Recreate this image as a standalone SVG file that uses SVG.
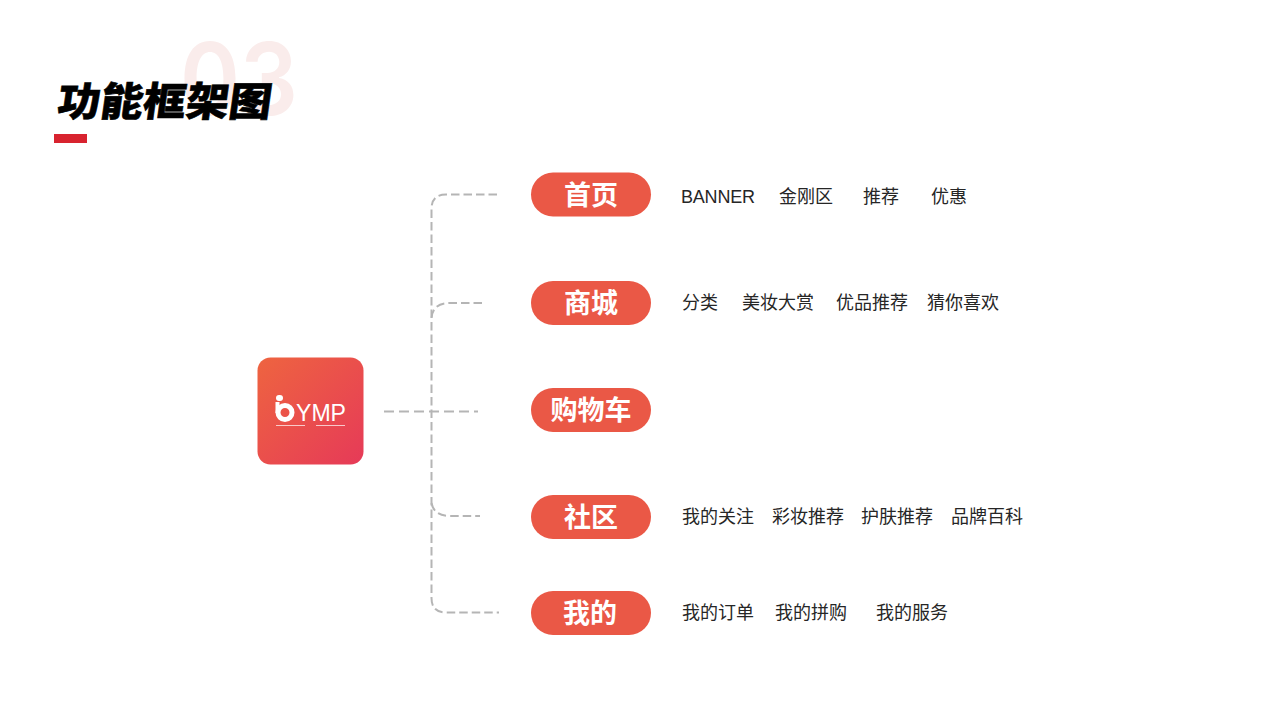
<svg xmlns="http://www.w3.org/2000/svg" width="1280" height="720" viewBox="0 0 1280 720">
<style>
.c{fill:none;stroke:#b5b5b5;stroke-width:2;stroke-dasharray:8.500 4}
.m{stroke-dasharray:10 5}
.p{fill:#ea5846}
.n{font-family:"Noto Sans CJK SC","Liberation Sans",sans-serif;font-size:27px;font-weight:700;fill:#fff;text-anchor:middle}
.t{font-family:"Noto Sans CJK SC","Liberation Sans",sans-serif;font-size:18px;font-weight:400;fill:#262626}
.b{font-family:"Liberation Sans",sans-serif;font-weight:400}
</style>
<defs>
<linearGradient id="g" x1="0" y1="0" x2="1" y2="1"><stop offset="0" stop-color="#ee6440"/><stop offset="1" stop-color="#e63a58"/></linearGradient>
</defs>
<rect width="1280" height="720" fill="#fff"/>
<g id="header">
<text x="180" y="115" font-family="Inter,'Liberation Sans',sans-serif" font-size="100" font-weight="600" fill="#faeceb" textLength="118" lengthAdjust="spacingAndGlyphs">03</text>
<text transform="translate(56 116) skewX(-8)" font-family="'Noto Sans CJK SC',sans-serif" font-size="40" font-weight="900" fill="#000" stroke="#000" stroke-width="0.600" textLength="214" lengthAdjust="spacingAndGlyphs">功能框架图</text>
<rect x="54" y="134" width="33" height="9" fill="#d8232f"/>
</g>
<g id="connectors">
<path class="c" d="M497 194.500H446Q431.500 194.500 431.500 209V598Q431.500 612.500 446 612.500H499"/>
<path class="c" d="M482 303H450Q431.500 303 431.500 320"/>
<path class="c" d="M431.500 503Q434 516 450 516H480"/>
<path class="c m" d="M384 411.500H478"/>
</g>
<g id="logo">
<rect x="257.500" y="357.500" width="106" height="107" rx="13" fill="url(#g)"/>
<circle cx="285" cy="412.500" r="7" fill="none" stroke="#fff" stroke-width="5"/>
<rect x="276" y="395" width="7" height="6" rx="3" fill="#fff"/>
<rect x="275.500" y="402" width="4" height="11" fill="#fff"/>
<text x="296" y="421" font-family="'Liberation Sans',sans-serif" font-size="24" fill="#fff" textLength="50" lengthAdjust="spacingAndGlyphs">YMP</text>
<path d="M276 425.500H305M316 425.500H345" stroke="#fff" stroke-width="0.700" fill="none"/>
</g>
<g id="node-home">
<rect class="p" x="531" y="172.500" width="120" height="44" rx="22"/>
<text class="n" x="591" y="205">首页</text>
<text class="t b" x="681" y="203" textLength="74">BANNER</text>
<text class="t" x="779" y="203">金刚区</text>
<text class="t" x="863" y="203">推荐</text>
<text class="t" x="931" y="203">优惠</text>
</g>
<g id="node-mall">
<rect class="p" x="531" y="281" width="120" height="44" rx="22"/>
<text class="n" x="591" y="313">商城</text>
<text class="t" x="682" y="309">分类</text>
<text class="t" x="742" y="309">美妆大赏</text>
<text class="t" x="836" y="309">优品推荐</text>
<text class="t" x="927" y="309">猜你喜欢</text>
</g>
<g id="node-cart">
<rect class="p" x="531" y="388" width="120" height="44" rx="22"/>
<text class="n" x="591" y="420">购物车</text>
</g>
<g id="node-community">
<rect class="p" x="531" y="495" width="120" height="44" rx="22"/>
<text class="n" x="591" y="527">社区</text>
<text class="t" x="682" y="523">我的关注</text>
<text class="t" x="772" y="523">彩妆推荐</text>
<text class="t" x="861" y="523">护肤推荐</text>
<text class="t" x="951" y="523">品牌百科</text>
</g>
<g id="node-mine">
<rect class="p" x="531" y="591" width="120" height="44" rx="22"/>
<text class="n" x="590" y="623">我的</text>
<text class="t" x="682" y="619">我的订单</text>
<text class="t" x="775" y="619">我的拼购</text>
<text class="t" x="876" y="619">我的服务</text>
</g>
</svg>
